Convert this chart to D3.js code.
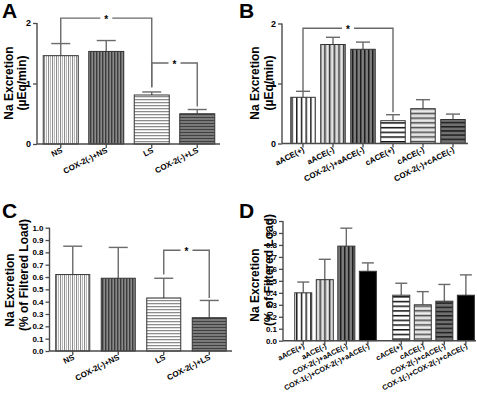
<!DOCTYPE html>
<html><head><meta charset="utf-8">
<script src="https://cdn.jsdelivr.net/npm/d3@7"></script>
<style>
body{margin:0;background:#fff}
svg{display:block}
text{font-family:"Liberation Sans",Arial,Helvetica,sans-serif;font-weight:bold;fill:#000}
</style>
</head><body>
<svg id="chart" width="477" height="401"></svg>
<script>
// ---------- DATA ----------
const aCats = ["NS", "COX-2(-)+NS", "LS", "COX-2(-)+LS"];
const aMean = [1.46, 1.53, 0.81, 0.50];
const aErrTop = [1.66, 1.71, 0.86, 0.57];
const aTicks = [0, 1, 2];

const bCats = ["aACE(+)", "aACE(-)", "COX-2(-)+aACE(-)", "cACE(+)", "cACE(-)", "COX-2(-)+cACE(-)"];
const bMean = [0.77, 1.65, 1.57, 0.38, 0.58, 0.40];
const bErrTop = [0.87, 1.77, 1.69, 0.48, 0.73, 0.49];
const bTicks = [0, 1, 2];

const cCats = ["NS", "COX-2(-)+NS", "LS", "COX-2(-)+LS"];
const cMean = [0.62, 0.59, 0.43, 0.27];
const cErrTop = [0.85, 0.84, 0.59, 0.41];
const cTicks = [0, 0.1, 0.2, 0.3, 0.4, 0.5, 0.6, 0.7, 0.8, 0.9, 1.0];

const dCats = ["aACE(+)", "aACE(-)", "COX-2(-)+aACE(-)", "COX-1(-)+COX-2(-)+aACE(-)",
               "cACE(+)", "cACE(-)", "COX-2(-)+cACE(-)", "COX-1(-)+COX-2(-)+cACE(-)"];
const dGroup = [0, 0, 0, 0, 1, 1, 1, 1];
const dMean = [0.40, 0.51, 0.79, 0.58, 0.38, 0.30, 0.33, 0.38];
const dErrTop = [0.49, 0.68, 0.94, 0.65, 0.48, 0.41, 0.47, 0.55];
const dTicks = cTicks;

// significance brackets: [fromIndex, toIndex, topValue, leftBottom, rightBottom]
const aBrackets = [[0, 2, 2.08, 1.66, 0.94], [2, 3, 1.34, 0.94, 0.62]];
const bBrackets = [[0, 3, 1.92, 0.87, 0.52]];
const cBrackets = [[2, 3, 0.817, 0.62, 0.43]];

// ---------- STYLE ----------
const svg = d3.select("#chart");
const defs = svg.append("defs");

function stripePattern(id, dir, period, stripes) {
  const p = defs.append("pattern").attr("id", id).attr("patternUnits", "userSpaceOnUse")
    .attr("width", dir === "v" ? period : 8).attr("height", dir === "v" ? 8 : period);
  stripes.forEach(([o, w, c]) => {
    if (dir === "v") p.append("rect").attr("x", o).attr("y", 0).attr("width", w).attr("height", 8).attr("fill", c);
    else p.append("rect").attr("x", 0).attr("y", o).attr("width", 8).attr("height", w).attr("fill", c);
  });
}
stripePattern("lv", "v", 4, [[0,4,"#d4d4d4"],[0,1,"#8c8c8c"],[1,1,"#f4f4f4"],[2,1,"#b8b8b8"],[3,1,"#ffffff"]]);
stripePattern("dv", "v", 3, [[0,3,"#6a6a6a"],[0,1,"#3c3c3c"],[2,1,"#8a8a8a"]]);
stripePattern("lh", "h", 3, [[0,3,"#e0e0e0"],[0,1,"#8c8c8c"],[2,1,"#ffffff"]]);
stripePattern("dh", "h", 3, [[0,3,"#7a7a7a"],[0,1,"#404040"]]);
stripePattern("wv", "v", 4.7, [[0,4.7,"#ffffff"],[0,1.4,"#111111"]]);
stripePattern("gv", "v", 4.7, [[0,4.7,"#c4c4c4"],[0,1.3,"#3a3a3a"],[2.6,1,"#f4f4f4"]]);
stripePattern("kv", "v", 4, [[0,4,"#6e6e6e"],[0,1.4,"#1e1e1e"],[2.5,0.8,"#909090"]]);
stripePattern("wh", "h", 4.7, [[0,4.7,"#ffffff"],[0,1.5,"#111111"]]);
stripePattern("gh", "h", 4.7, [[0,4.7,"#d0d0d0"],[0,1.3,"#4a4a4a"],[2.6,1,"#f4f4f4"]]);
stripePattern("kh", "h", 4.2, [[0,4.2,"#707070"],[0,1.5,"#1e1e1e"]]);

const aFill = ["url(#lv)", "url(#dv)", "url(#lh)", "url(#dh)"];
const bFill = ["url(#wv)", "url(#gv)", "url(#kv)", "url(#wh)", "url(#gh)", "url(#kh)"];
const dFill = ["url(#wv)", "url(#gv)", "url(#kv)", "#000000", "url(#wh)", "url(#gh)", "url(#kh)", "#000000"];

const axisColor = "#4a4a4a";
const errColor = "#6a6a6a";

function rotText(x, y, angle, txt, size, anchor) {
  svg.append("text").attr("x", x).attr("y", y)
    .attr("transform", `rotate(${angle} ${x} ${y})`)
    .attr("text-anchor", anchor).attr("font-size", size).text(txt);
}

function panel(cfg) {
  const g = svg.append("g");
  const y = d3.scaleLinear().domain([0, cfg.yMax]).range([cfg.y0, cfg.yTop]);
  const cx = cfg.cx;
  const bw = cfg.bw;

  g.append("text").attr("x", cfg.letterX).attr("y", cfg.letterY).attr("font-size", 21).text(cfg.letter);

  cfg.vals.forEach((v, i) => {
    const x0 = cx(i) - bw / 2;
    g.append("line").attr("x1", cx(i)).attr("x2", cx(i)).attr("y1", y(v)).attr("y2", y(cfg.err[i]))
      .attr("stroke", errColor).attr("stroke-width", 1.4);
    g.append("line").attr("x1", cx(i) - cfg.cap / 2).attr("x2", cx(i) + cfg.cap / 2)
      .attr("y1", y(cfg.err[i])).attr("y2", y(cfg.err[i])).attr("stroke", errColor).attr("stroke-width", 1.4);
    g.append("rect").attr("x", x0).attr("y", y(v)).attr("width", bw).attr("height", y(0) - y(v))
      .attr("fill", cfg.fills[i]).attr("stroke", "#333").attr("stroke-width", 1);
  });

  const yAxis = d3.axisLeft(y).tickValues(cfg.ticks).tickFormat(cfg.fmt).tickSize(4).tickPadding(2);
  const ya = g.append("g").attr("transform", `translate(${cfg.axisX},0)`).call(yAxis);
  ya.attr("font-family", null).attr("font-size", null);
  ya.select(".domain").attr("stroke", axisColor).attr("stroke-width", 1.4)
    .attr("d", `M0,${cfg.y0}V${cfg.yTop}`);
  ya.selectAll(".tick line").attr("stroke", axisColor).attr("stroke-width", 1.3);
  ya.selectAll(".tick text").attr("font-size", cfg.tickFont).attr("fill", "#000");

  g.append("line").attr("x1", cfg.axisX).attr("x2", cfg.xEnd).attr("y1", cfg.y0).attr("y2", cfg.y0)
    .attr("stroke", axisColor).attr("stroke-width", 1.4);
  cfg.cats.forEach((c, i) => {
    g.append("line").attr("x1", cx(i)).attr("x2", cx(i)).attr("y1", cfg.y0).attr("y2", cfg.y0 + 4)
      .attr("stroke", axisColor).attr("stroke-width", 1.3);
  });

  (cfg.brackets || []).forEach(([a, b, top, lb, rb]) => {
    const xa = cx(a), xb = cx(b), yt = y(top), mid = (xa + xb) / 2;
    const p = d3.path();
    p.moveTo(xa, y(lb)); p.lineTo(xa, yt); p.lineTo(mid - 6, yt);
    p.moveTo(mid + 6, yt); p.lineTo(xb, yt); p.lineTo(xb, y(rb));
    g.append("path").attr("d", p.toString()).attr("fill", "none").attr("stroke", errColor).attr("stroke-width", 1.4);
    g.append("text").attr("x", mid).attr("y", yt + 5).attr("text-anchor", "middle").attr("font-size", 10).text("*");
  });

  cfg.ylab.forEach((t, i) => rotText(cfg.ylabX[i], cfg.ylabY[i], -90, t, 12, "middle"));
  cfg.cats.forEach((c, i) => rotText(Math.round(cx(i)) + 2, cfg.y0 + cfg.xLabDy, -27, c, cfg.xFont, "end"));
}

const xA = d3.scaleBand().domain(d3.range(aCats.length)).range([38, 220]);
panel({letter: "A", letterX: 2, letterY: 18, cats: aCats, vals: aMean, err: aErrTop, fills: aFill,
  yMax: 2, y0: 144, yTop: 23, axisX: 37, xEnd: 220, ticks: aTicks, fmt: d3.format("d"),
  cx: i => xA(i) + xA.bandwidth() / 2, bw: 35, cap: 19, tickFont: 9, xFont: 8, xLabDy: 8,
  ylab: ["Na Excretion", "(\u00B5Eq/min)"], ylabX: [13, 26], ylabY: [83, 83], brackets: aBrackets});

const xB = d3.scaleBand().domain(d3.range(bCats.length)).range([288, 468]);
panel({letter: "B", letterX: 239, letterY: 18, cats: bCats, vals: bMean, err: bErrTop, fills: bFill,
  yMax: 2, y0: 143.5, yTop: 23.5, axisX: 282, xEnd: 468, ticks: bTicks, fmt: d3.format("d"),
  cx: i => xB(i) + xB.bandwidth() / 2, bw: 24.5, cap: 14, tickFont: 9, xFont: 8, xLabDy: 8,
  ylab: ["Na Excretion", "(\u00B5Eq/min)"], ylabX: [259, 273], ylabY: [83, 83], brackets: bBrackets});

const xC = d3.scaleBand().domain(d3.range(cCats.length)).range([50, 232]);
panel({letter: "C", letterX: 2, letterY: 218, cats: cCats, vals: cMean, err: cErrTop, fills: aFill,
  yMax: 1, y0: 351, yTop: 227.7, axisX: 49.5, xEnd: 232, ticks: cTicks, fmt: d3.format(".1f"),
  cx: i => xC(i) + xC.bandwidth() / 2, bw: 34, cap: 19, tickFont: 8, xFont: 8, xLabDy: 8,
  ylab: ["Na Excretion", "(% of Filtered Load)"], ylabX: [14, 28], ylabY: [290, 275], brackets: cBrackets});

const dPos = dCats.map((c, i) => i + dGroup[i] * 0.55);
const xD = d3.scaleLinear().domain([-0.94, 8.02]).range([283, 476]);
panel({letter: "D", letterX: 239, letterY: 218, cats: dCats, vals: dMean, err: dErrTop, fills: dFill,
  yMax: 1, y0: 340.7, yTop: 221, axisX: 283, xEnd: 476, ticks: dTicks, fmt: d3.format(".1f"),
  cx: i => xD(dPos[i]), bw: 17, cap: 12, tickFont: 8, xFont: 7.3, xLabDy: 7,
  ylab: ["Na Excretion", "(% of Filtered Load)"], ylabX: [259, 273], ylabY: [285, 270], brackets: []});
</script>
</body></html>
